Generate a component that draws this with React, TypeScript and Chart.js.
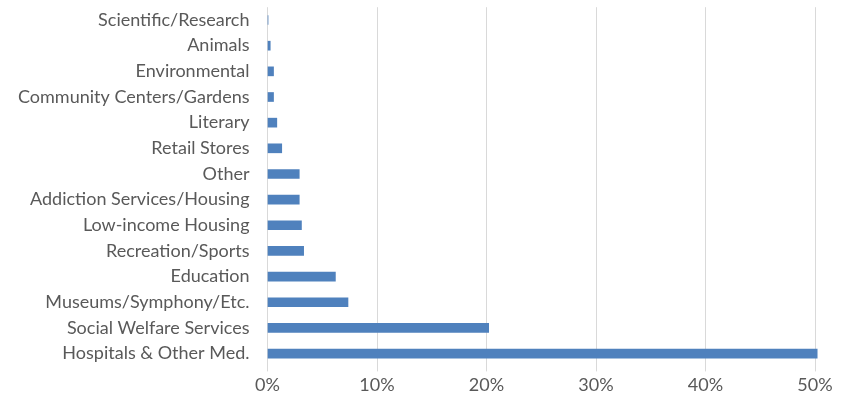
import React, { useEffect, useRef } from "react";
import { Chart, registerables } from "chart.js";

Chart.register(...registerables);

const categories = [
  "Scientific/Research",
  "Animals",
  "Environmental",
  "Community Centers/Gardens",
  "Literary",
  "Retail Stores",
  "Other",
  "Addiction Services/Housing",
  "Low-income Housing",
  "Recreation/Sports",
  "Education",
  "Museums/Symphony/Etc.",
  "Social Welfare Services",
  "Hospitals & Other Med.",
];

const shares = [
  0.0005, 0.0025, 0.0055, 0.0055, 0.0085, 0.013, 0.029, 0.029, 0.031, 0.033,
  0.062, 0.0735, 0.202, 0.502,
];

const xTicks = [0, 0.1, 0.2, 0.3, 0.4, 0.5];

export default function App() {
  const ref = useRef<HTMLCanvasElement>(null);
  useEffect(() => {
    if (!ref.current) return;
    const chart = new Chart(ref.current, {
      type: "bar",
      data: {
        labels: categories,
        datasets: [
          {
            data: shares,
            backgroundColor: "#4f81bd",
            barThickness: 9,
            clip: false as any,
          },
        ],
      },
      options: {
        indexAxis: "y",
        animation: false,
        responsive: true,
        maintainAspectRatio: false,
        layout: { padding: { top: 0, right: 28, bottom: 2, left: 18 } },
        plugins: { legend: { display: false }, tooltip: { enabled: false } },
        scales: {
          x: {
            min: xTicks[0],
            max: xTicks[xTicks.length - 1],
            afterBuildTicks: (axis: any) => {
              axis.ticks = xTicks.map((v) => ({ value: v }));
            },
            grid: { color: "#d9d9d9", lineWidth: 1, tickLength: 5 },
            border: { display: false },
            ticks: {
              color: "#595959",
              font: { family: "Lato", size: 18 },
              padding: 3,
              callback: (v: any) => Math.round(Number(v) * 100) + "%",
            },
          },
          y: {
            grid: { display: false, drawTicks: true, tickLength: 18 },
            border: { display: false },
            ticks: {
              color: "#595959",
              font: { family: "Lato", size: 18, lineHeight: 0.8 },
              padding: 0,
              autoSkip: false,
            },
          },
        },
      },
    });
    return () => chart.destroy();
  }, []);
  return (
    <div style={{ position: "fixed", left: 0, top: 0, width: 843, height: 401, background: "#fff" }}>
      <canvas ref={ref} />
    </div>
  );
}
